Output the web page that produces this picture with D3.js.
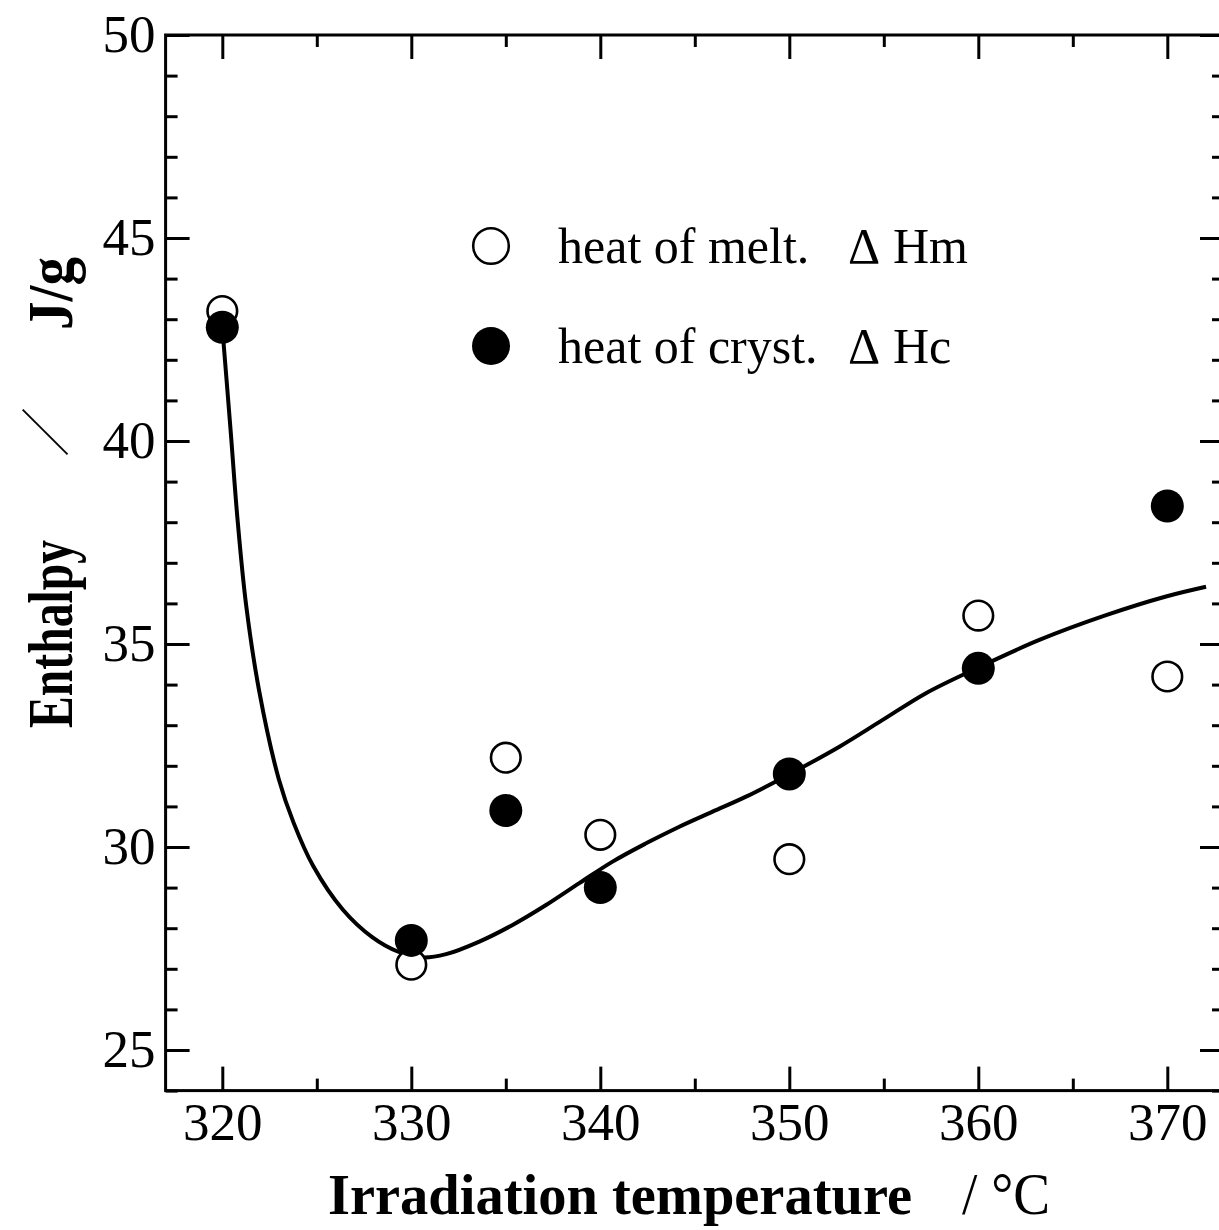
<!DOCTYPE html>
<html>
<head>
<meta charset="utf-8">
<script src="https://cdn.jsdelivr.net/npm/d3@7"></script>
<style>
  html, body { margin: 0; padding: 0; background: #fff; }
  svg { display: block; }
  text { font-family: "Liberation Serif", "Times New Roman", serif; fill: #000; }
</style>
</head>
<body>
<svg id="chart" width="1219" height="1230"></svg>
<script>
// Irradiation temperature (°C)
const temperatures = [320, 330, 335, 340, 350, 360, 370];
// Heat of melting ΔHm (J/g), open circles
const heatOfMelt = [43.2, 27.1, 32.2, 30.3, 29.7, 35.7, 34.2];
// Heat of crystallization ΔHc (J/g), filled circles
const heatOfCryst = [42.8, 27.7, 30.9, 29.0, 31.8, 34.4, 38.4];

// Fitted trend line through ΔHc
const fitTemp = [320.0, 320.45, 320.8, 321.26, 321.96, 322.99, 323.77, 324.81, 326.37, 327.93,
                 329.31, 330.6, 331.84, 333.6, 335.36, 337.13, 338.89, 340.65, 342.42, 344.18,
                 345.94, 347.71, 350.04, 352.65, 354.94, 357.23, 360.0, 363.23, 366.76, 369.93, 372.05];
const fitEnthalpy = [42.8, 40.2, 38.1, 35.96, 33.82, 31.67, 30.6, 29.53, 28.46, 27.78,
                     27.42, 27.28, 27.36, 27.67, 28.08, 28.57, 29.11, 29.64, 30.09, 30.5,
                     30.87, 31.24, 31.8, 32.47, 33.13, 33.79, 34.42, 35.1, 35.71, 36.17, 36.41];

// Tick values
const xMajorTicks = [320, 330, 340, 350, 360, 370];
const xMinorTicks = [325, 335, 345, 355, 365];
const yMajorTicks = [25, 30, 35, 40, 45, 50];
const yMinorTicks = d3.range(24, 51).filter(v => v % 5 !== 0);

// Legend entries
const legendDescriptions = ["heat of melt.", "heat of cryst."];
const legendQuantities = ["Hm", "Hc"];

const svg = d3.select("#chart");
const plot = { left: 165.6, right: 1224, top: 35, bottom: 1090.6 };

const x = d3.scaleLinear().domain([317, 373]).range([plot.left, plot.right]);
const y = d3.scaleLinear().domain([24, 50]).range([plot.bottom, plot.top]);

const majorLen = 24, minorLen = 12, labelSize = 53;

function styleAxis(g) {
  g.select(".domain").remove();
  g.selectAll("line").attr("stroke", "#000").attr("stroke-width", 3);
  g.selectAll("text")
    .style("font-family", '"Liberation Serif", "Times New Roman", serif')
    .style("font-size", labelSize + "px")
    .attr("fill", "#000");
}

// Bottom axis: labelled major ticks + minor ticks, pointing inward
svg.append("g").attr("transform", `translate(0,${plot.bottom})`)
  .call(d3.axisBottom(x).tickValues(xMajorTicks).tickSize(-majorLen).tickPadding(11).tickFormat(d3.format("d")))
  .call(styleAxis)
  .selectAll("text").attr("dy", "0.72em");
svg.append("g").attr("transform", `translate(0,${plot.bottom})`)
  .call(d3.axisBottom(x).tickValues(xMinorTicks).tickSize(-minorLen).tickFormat(""))
  .call(styleAxis);

// Top axis (no labels)
svg.append("g").attr("transform", `translate(0,${plot.top})`)
  .call(d3.axisTop(x).tickValues(xMajorTicks).tickSize(-majorLen).tickFormat(""))
  .call(styleAxis);
svg.append("g").attr("transform", `translate(0,${plot.top})`)
  .call(d3.axisTop(x).tickValues(xMinorTicks).tickSize(-minorLen).tickFormat(""))
  .call(styleAxis);

// Left axis
svg.append("g").attr("transform", `translate(${plot.left},0)`)
  .call(d3.axisLeft(y).tickValues(yMajorTicks).tickSize(-majorLen).tickPadding(10).tickFormat(d3.format("d")))
  .call(styleAxis);
svg.append("g").attr("transform", `translate(${plot.left},0)`)
  .call(d3.axisLeft(y).tickValues(yMinorTicks).tickSize(-minorLen).tickFormat(""))
  .call(styleAxis);

// Right axis (no labels)
svg.append("g").attr("transform", `translate(${plot.right},0)`)
  .call(d3.axisRight(y).tickValues(yMajorTicks).tickSize(-majorLen).tickFormat(""))
  .call(styleAxis);
svg.append("g").attr("transform", `translate(${plot.right},0)`)
  .call(d3.axisRight(y).tickValues(yMinorTicks).tickSize(-minorLen).tickFormat(""))
  .call(styleAxis);

// Frame
svg.append("rect")
  .attr("x", plot.left).attr("y", plot.top)
  .attr("width", plot.right - plot.left).attr("height", plot.bottom - plot.top)
  .attr("fill", "none").attr("stroke", "#000").attr("stroke-width", 3);

// Fitted curve
const fitData = fitTemp.map((t, i) => [t, fitEnthalpy[i]]);
svg.append("path")
  .datum(fitData)
  .attr("fill", "none")
  .attr("stroke", "#000")
  .attr("stroke-width", 4)
  .attr("stroke-linejoin", "round")
  .attr("d", d3.line().x(d => x(d[0])).y(d => y(d[1])).curve(d3.curveCatmullRom.alpha(0.5)));

const markerR = 16;

// ΔHm: open circles
svg.append("g").selectAll("circle")
  .data(temperatures.map((t, i) => [t, heatOfMelt[i]]))
  .join("circle")
  .attr("cx", d => x(d[0])).attr("cy", d => y(d[1])).attr("r", markerR - 1.2)
  .attr("fill", "#fff").attr("stroke", "#000").attr("stroke-width", 2.6);

// ΔHc: filled circles
svg.append("g").selectAll("circle")
  .data(temperatures.map((t, i) => [t, heatOfCryst[i]]))
  .join("circle")
  .attr("cx", d => x(d[0])).attr("cy", d => y(d[1])).attr("r", markerR + 0.5)
  .attr("fill", "#000");

// Legend
const legend = svg.append("g");
[246, 346].forEach((cy, i) => {
  const filled = i === 1;
  legend.append("circle")
    .attr("cx", 491).attr("cy", cy).attr("r", filled ? 19 : 17.8)
    .attr("fill", filled ? "#000" : "#fff")
    .attr("stroke", "#000").attr("stroke-width", filled ? 0 : 2.6);
  legend.append("text").attr("x", 558).attr("y", cy + 17)
    .style("font-size", "50px").text(legendDescriptions[i]);
  legend.append("text").attr("x", 848).attr("y", cy + 17)
    .style("font-size", "50px").text("\u0394");
  legend.append("text").attr("x", 893).attr("y", cy + 17)
    .style("font-size", "50px").text(legendQuantities[i]);
});

// X axis title
svg.append("text")
  .attr("x", 328).attr("y", 1214)
  .attr("textLength", 584).attr("lengthAdjust", "spacingAndGlyphs")
  .style("font-size", "58px").style("font-weight", "bold")
  .text("Irradiation temperature");
// unit: slash and degree Celsius
svg.append("text")
  .attr("x", 962).attr("y", 1214)
  .attr("textLength", 88).attr("lengthAdjust", "spacingAndGlyphs")
  .style("font-size", "60px")
  .style("white-space", "pre")
  .text("/ \u00B0C");

// Y axis title (rotated, three pieces)
const yTitle = svg.append("g").attr("transform", "translate(72,0) rotate(-90)");
yTitle.append("text").attr("x", -728).attr("y", 0)
  .attr("textLength", 188).attr("lengthAdjust", "spacingAndGlyphs")
  .style("font-size", "64px").style("font-weight", "bold").text("Enthalpy");
yTitle.append("text").attr("x", -432).attr("y", -8).attr("text-anchor", "middle")
  .style("font-family", '"Noto Sans CJK JP", sans-serif')
  .style("font-size", "50px").style("font-weight", "300").text("\uFF0F");
yTitle.append("text").attr("x", -330).attr("y", 0)
  .attr("textLength", 73).attr("lengthAdjust", "spacingAndGlyphs")
  .style("font-size", "64px").style("font-weight", "bold").text("J/g");
</script>
</body>
</html>
